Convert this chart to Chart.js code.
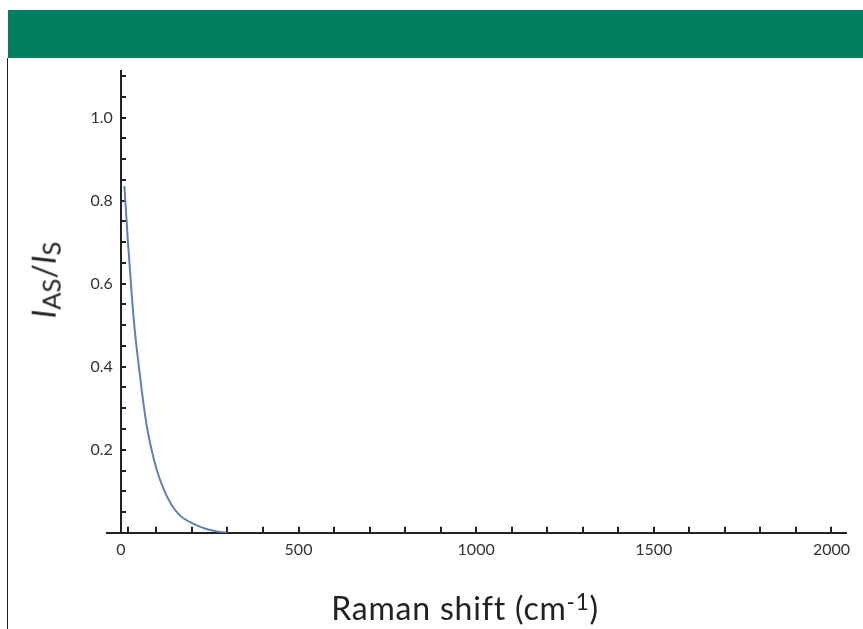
<!DOCTYPE html>
<html>
<head>
<meta charset="utf-8">
<script src="https://cdn.jsdelivr.net/npm/chart.js@4/dist/chart.umd.min.js"></script>
<style>
  html, body { margin: 0; padding: 0; background: #fff; }
  #wrap { position: relative; width: 863px; height: 629px; overflow: hidden; }
  .band { position: absolute; left: 8px; top: 10px; width: 855px; height: 48px; background: #008060; }
  .rule { position: absolute; left: 7px; top: 58px; width: 1px; height: 571px; background: #222; }
  #ratioChart { position: absolute; left: 0; top: 0; }
  .title { position: absolute; font-family: Lato, "Open Sans", sans-serif; color: #222; white-space: nowrap; line-height: 1; }
  #xTitle { left: 465px; top: 591px; font-size: 32px; letter-spacing: 0.8px; transform: translateX(-50%); }
  #xTitle sup { font-size: 0.7em; vertical-align: 0.45em; }
  #yTitle { left: 46px; top: 280px; font-size: 32px; transform: translate(-50%, -50%) rotate(-90deg); }
  #yTitle sub { font-size: 0.8em; vertical-align: -0.2em; }
</style>
</head>
<body>
<div id="wrap">
  <div class="band"></div>
  <div class="rule"></div>
  <canvas id="ratioChart" width="863" height="629"></canvas>
  <div class="title" id="xTitle">Raman shift (cm<sup>-1</sup>)</div>
  <div class="title" id="yTitle"><i>I</i><sub>AS</sub>/<i>I</i><sub>S</sub></div>
</div>
<script>
// values
const ramanShift = [10, 20, 30, 40, 50, 60, 72, 86, 100, 119, 142, 166, 203, 241, 278, 300];
const intensityRatio = [0.835, 0.70, 0.58, 0.48, 0.405, 0.335, 0.262, 0.202, 0.155, 0.108, 0.068, 0.042, 0.022, 0.009, 0.002, 0];

// tick marks and labels
const xTicks = [20, 100, 200, 300, 400, 500, 600, 700, 800, 900, 1000, 1100, 1200, 1300, 1400, 1500, 1600, 1700, 1800, 1900, 2000];
const xLabelValues = [0, 500, 1000, 1500, 2000];
const xLabels = ['0', '500', '1000', '1500', '2000'];
const yTicks = [0.05, 0.1, 0.15, 0.2, 0.25, 0.3, 0.35, 0.4, 0.45, 0.5, 0.55, 0.6, 0.65, 0.7, 0.75, 0.8, 0.85, 0.9, 0.95, 1.0, 1.05, 1.1];
const yLabelValues = [0.2, 0.4, 0.6, 0.8, 1.0];
const yLabels = ['0.2', '0.4', '0.6', '0.8', '1.0'];

const axisColor = '#222';
const tickFont = { family: 'Lato', size: 16 };

const labelFor = (values, labels, v) => {
  const i = values.findIndex((t) => Math.abs(t - v) < 1e-6);
  return i >= 0 ? labels[i] : '';
};

new Chart('ratioChart', {
  type: 'line',
  data: {
    datasets: [
      {
        data: ramanShift.map((x, i) => ({ x, y: intensityRatio[i] })),
        borderColor: '#5e81b5',
        borderWidth: 2,
        pointRadius: 0,
        fill: false,
        cubicInterpolationMode: 'monotone',
      },
    ],
  },
  options: {
    responsive: false,
    animation: false,
    layout: { padding: { left: 107, right: -13, top: 71, bottom: 57 } },
    plugins: { legend: { display: false }, tooltip: { enabled: false } },
    scales: {
      x: {
        type: 'linear',
        min: -39,
        max: 2042,
        afterBuildTicks: (scale) => {
          scale.ticks = [0].concat(xTicks).map((v) => ({ value: v }));
        },
        ticks: {
          autoSkip: false,
          maxRotation: 0,
          padding: 13,
          color: '#333',
          font: tickFont,
          callback: (v) => labelFor(xLabelValues, xLabels, v),
        },
        grid: {
          drawOnChartArea: false,
          drawTicks: true,
          tickLength: -6,
          tickColor: axisColor,
          lineWidth: 2,
        },
        border: { color: axisColor, width: 2 },
      },
      y: {
        position: { x: 0 },
        min: 0,
        max: 1.112,
        afterBuildTicks: (scale) => {
          scale.ticks = yTicks.map((v) => ({ value: v }));
        },
        ticks: {
          autoSkip: false,
          color: '#333',
          font: tickFont,
          // en space keeps the label clear of the axis line
          callback: (v) => {
            const label = labelFor(yLabelValues, yLabels, v);
            return label ? label + '\u2002' : '';
          },
        },
        grid: {
          drawOnChartArea: false,
          drawTicks: true,
          tickLength: -6,
          tickColor: axisColor,
          lineWidth: 2,
        },
        border: { color: axisColor, width: 2 },
      },
    },
  },
});
</script>
</body>
</html>
